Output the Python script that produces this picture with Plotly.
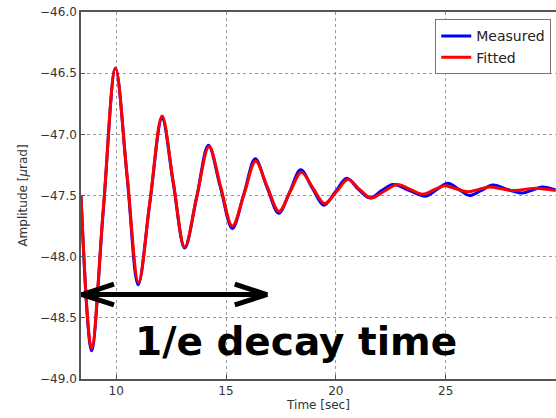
import plotly.graph_objects as go

# Time axis and signals (extrema plus mid crossings)
t_measured = [8.40, 8.88, 9.42, 9.97, 10.50, 11.00, 11.54, 12.09, 12.60, 13.12,
              13.66, 14.20, 14.74, 15.29, 15.81, 16.33, 16.86, 17.40, 17.90, 18.40,
              18.93, 19.45, 19.98, 20.50, 21.03, 21.55, 22.08, 22.60, 23.35, 24.10,
              24.60, 25.10, 25.60, 26.08, 26.60, 27.14, 27.80, 28.50, 28.95, 29.40,
              30.00]
amp_measured = [-47.50, -48.77, -47.61, -46.46, -47.35, -48.23, -47.55, -46.87, -47.40, -47.93,
                -47.52, -47.09, -47.43, -47.77, -47.49, -47.20, -47.43, -47.645, -47.47, -47.29,
                -47.44, -47.58, -47.47, -47.36, -47.45, -47.52, -47.46, -47.41, -47.46, -47.505,
                -47.45, -47.40, -47.45, -47.50, -47.46, -47.415, -47.45, -47.48, -47.455, -47.43,
                -47.455]

t_fitted = [8.40, 8.88, 9.42, 9.97, 10.50, 11.02, 11.55, 12.09, 12.60, 13.12,
            13.67, 14.23, 14.76, 15.29, 15.82, 16.35, 16.88, 17.41, 17.92, 18.43,
            18.96, 19.49, 20.02, 20.55, 21.08, 21.61, 22.20, 22.80, 23.38, 23.95,
            24.45, 24.94, 25.47, 26.00, 26.50, 26.99, 27.52, 28.05, 28.58, 29.11,
            29.60, 30.00]
amp_fitted = [-47.50, -48.75, -47.60, -46.46, -47.34, -48.21, -47.53, -46.85, -47.39, -47.92,
              -47.51, -47.10, -47.43, -47.75, -47.49, -47.22, -47.43, -47.63, -47.47, -47.31,
              -47.44, -47.565, -47.47, -47.37, -47.45, -47.52, -47.465, -47.41, -47.45, -47.49,
              -47.455, -47.42, -47.445, -47.47, -47.45, -47.43, -47.445, -47.46, -47.45, -47.44,
              -47.45, -47.46]

# decay-time arrow (data coords)
arrow_t = [8.4, 16.9]
arrow_amp = -48.31

fig = go.Figure()
fig.add_trace(go.Scatter(x=t_measured, y=amp_measured, mode='lines', name='Measured',
                         line=dict(color='#0000ff', width=3, shape='spline', smoothing=1.0)))
fig.add_trace(go.Scatter(x=t_fitted, y=amp_fitted, mode='lines', name='Fitted',
                         line=dict(color='#ff0000', width=3, shape='spline', smoothing=1.0)))

# double headed arrow with open chevron heads (separate strokes, no miter spikes)
head_dt, head_da = 1.5, 0.085
a0, a1 = arrow_t
arrow_style = dict(color='black', width=5)
fig.add_shape(type='line', x0=a0, x1=a1, y0=arrow_amp, y1=arrow_amp, line=arrow_style)
for tip, sgn in [(a0, 1), (a1, -1)]:
    for side in (1, -1):
        fig.add_shape(type='line', x0=tip + sgn * 0.05, y0=arrow_amp,
                      x1=tip + sgn * head_dt, y1=arrow_amp + side * head_da,
                      line=arrow_style)

fig.add_annotation(x=18.17, y=-48.69, text='<b>1/e decay time</b>', showarrow=False,
                   font=dict(family='DejaVu Sans', size=39, color='black'))

axis_common = dict(showline=True, linecolor='#555555', linewidth=1.5, mirror=True,
                   showgrid=True, gridcolor='#9a9a9a', griddash='dot', gridwidth=1,
                   ticks='inside', ticklen=4, tickcolor='#555555', zeroline=False,
                   automargin=False, tickfont=dict(size=12, color='#333333'))

fig.update_layout(
    width=556, height=418,
    margin=dict(l=81, r=0, t=12, b=39),
    paper_bgcolor='white', plot_bgcolor='white',
    font=dict(family='DejaVu Sans', color='#333333'),
    showlegend=True,
    legend=dict(x=0.99, xanchor='right', y=0.98, yanchor='top',
                bordercolor='#777777', borderwidth=1, bgcolor='white',
                itemwidth=30, tracegroupgap=0,
                font=dict(size=14, color='#222222')),
    xaxis=dict(range=[8.4, 30.02], dtick=5, tick0=10,
               title=dict(text='Time [sec]', font=dict(size=12), standoff=2), **axis_common),
    yaxis=dict(range=[-49, -46], dtick=0.5, tickformat='.1f',
               title=dict(text='Amplitude [<i>μ</i>rad]', font=dict(size=12), standoff=10),
               **axis_common),
)

# drop the browser's default body margin so the figure sits at the page corner
fig.write_html("out.html", config={'displayModeBar': False},
               post_script="document.body.style.margin='0px';")
